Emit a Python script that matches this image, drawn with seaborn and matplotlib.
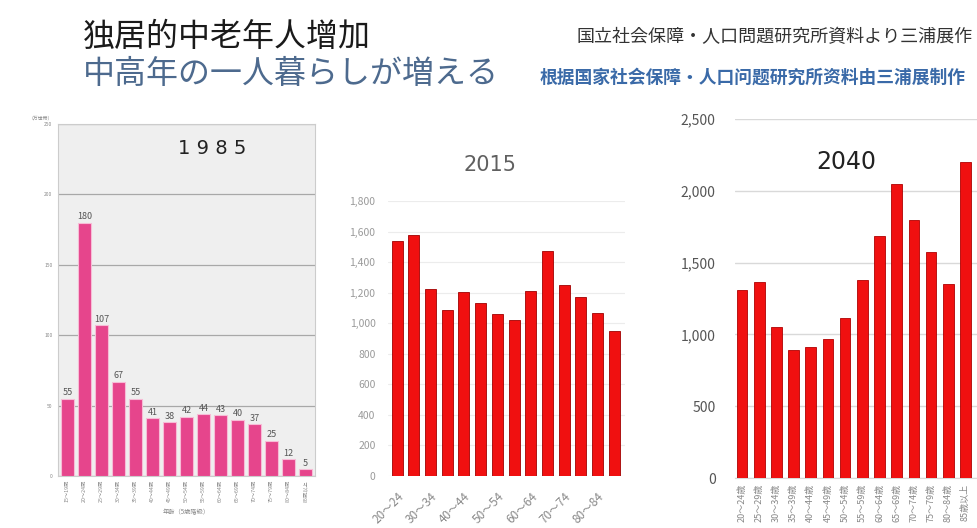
import numpy as np
import pandas as pd
import seaborn as sns
import matplotlib.pyplot as plt

# single-person households by age group
ages_1985 = ['15～19歳', '20～24歳', '25～29歳', '30～34歳', '35～39歳', '40～44歳',
             '45～49歳', '50～54歳', '55～59歳', '60～64歳', '65～69歳', '70～74歳',
             '75～79歳', '80～84歳', '85歳以上']
values_1985 = [55, 180, 107, 67, 55, 41, 38, 42, 44, 43, 40, 37, 25, 12, 5]

ages_2015 = ['20～24', '25～29', '30～34', '35～39', '40～44', '45～49', '50～54',
             '55～59', '60～64', '65～69', '70～74', '75～79', '80～84', '85～']
values_2015 = [1535, 1579, 1224, 1086, 1202, 1132, 1062, 1021, 1211, 1470, 1248, 1169, 1069, 947]

ages_2040 = ['20～24歳', '25～29歳', '30～34歳', '35～39歳', '40～44歳', '45～49歳',
             '50～54歳', '55～59歳', '60～64歳', '65～69歳', '70～74歳', '75～79歳',
             '80～84歳', '85歳以上']
values_2040 = [1308, 1366, 1050, 892, 915, 971, 1111, 1380, 1682, 2045, 1796, 1573, 1348, 2198]

sns.set_style('white')
plt.rcParams['font.family'] = ['Noto Sans CJK JP', 'DejaVu Sans']

W, H = 978, 528
fig = plt.figure(figsize=(W / 100, H / 100), dpi=100)
fig.patch.set_facecolor('white')


def box(l, t, r, b):
    return [l / W, 1 - b / H, (r - l) / W, (b - t) / H]


# headings
fig.text(83 / W, 1 - 37 / H, '独居的中老年人增加', fontsize=23, color='#1a1a1a',
         va='center', family=['Noto Sans CJK SC', 'DejaVu Sans'])
fig.text(83 / W, 1 - 74 / H, '中高年の一人暮らしが増える', fontsize=23, color='#4d6a8e',
         va='center')
fig.text(577 / W, 1 - 37 / H, '国立社会保障・人口問題研究所資料より三浦展作', fontsize=13,
         color='#333333', va='center')
fig.text(540 / W, 1 - 78 / H, '根据国家社会保障·人口问题研究所资料由三浦展制作', fontsize=12.8,
         color='#3a6aa8', va='center', weight='bold',
         family=['Noto Sans CJK SC', 'DejaVu Sans'])

# 1985 panel (scanned style)
df1 = pd.DataFrame({'age': ages_1985, 'n': values_1985})
ax1 = fig.add_axes(box(58, 124, 315, 476))
ax1.set_facecolor('#efefef')
sns.barplot(data=df1, x='age', y='n', color='#e6458c', saturation=1, width=0.77,
            edgecolor='#f7bcd6', linewidth=0.8, ax=ax1, zorder=3)
ax1.set_ylim(0, 250)
ax1.set_xlim(-0.55, 14.55)
ax1.set_yticks(range(0, 251, 50))
ax1.yaxis.grid(True, color='#a8a8a8', lw=0.9)
ax1.set_axisbelow(True)
ax1.tick_params(axis='y', labelsize=3.5, colors='#888888', length=0, pad=4)
ax1.tick_params(axis='x', labelsize=3.8, colors='#888888', length=0, pad=3, rotation=90)
ax1.bar_label(ax1.containers[0], fontsize=6.5, color='#555555', padding=1)
for s in ax1.spines.values():
    s.set_color('#cccccc')
    s.set_linewidth(0.8)
ax1.set_xlabel('年齢（5歳階級）', fontsize=4.5, color='#888888', labelpad=4)
ax1.set_ylabel('')
ax1.text(-0.02, 1.01, '（万世帯）', transform=ax1.transAxes, fontsize=3.5,
         color='#888888', ha='right', va='bottom')
ax1.text(0.6, 0.93, '1 9 8 5', transform=ax1.transAxes, fontsize=14,
         color='#222222', ha='center', va='center', family='DejaVu Sans')

# 2015 panel
df2 = pd.DataFrame({'age': ages_2015, 'n': values_2015})
ax2 = fig.add_axes(box(388, 201, 625, 476))
sns.barplot(data=df2, x='age', y='n', color='#f01010', saturation=1, width=0.66,
            edgecolor='#a00000', linewidth=0.6, ax=ax2, zorder=3)
ax2.set_ylim(0, 1800)
ax2.set_xlim(-0.55, 13.65)
ax2.set_yticks(range(0, 1801, 200))
ax2.set_yticklabels([f'{v:,}' for v in range(0, 1801, 200)])
ax2.set_xticks(range(0, 14, 2))
ax2.set_xticklabels(ages_2015[::2], rotation=45, ha='right', rotation_mode='anchor')
ax2.yaxis.grid(True, color='#ececec', lw=0.8)
ax2.set_axisbelow(True)
ax2.tick_params(axis='y', labelsize=7.5, colors='#9a9a9a', length=0, pad=9)
ax2.tick_params(axis='x', labelsize=8.5, colors='#888888', length=0, pad=10)
sns.despine(ax=ax2, left=True, bottom=True)
ax2.set_xlabel('')
ax2.set_ylabel('')
fig.text(490 / W, 1 - 165 / H, '2015', fontsize=15, color='#606060',
         ha='center', va='center', family='DejaVu Sans')

# 2040 panel
df3 = pd.DataFrame({'age': ages_2040, 'n': values_2040})
ax3 = fig.add_axes(box(735, 119, 978, 478))
sns.barplot(data=df3, x='age', y='n', color='#f01010', saturation=1, width=0.62,
            edgecolor='#b00000', linewidth=0.6, ax=ax3, zorder=3)
ax3.set_ylim(0, 2500)
ax3.set_xlim(-0.41, 13.73)
ax3.set_yticks(range(0, 2501, 500))
ax3.set_yticklabels([f'{v:,}' for v in range(0, 2501, 500)])
ax3.tick_params(axis='x', labelrotation=90)
ax3.yaxis.grid(True, color='#d9d9d9', lw=1)
ax3.set_axisbelow(True)
ax3.tick_params(axis='y', labelsize=10, colors='#555555', length=0, pad=14)
ax3.tick_params(axis='x', labelsize=6.5, colors='#888888', length=0, pad=4)
sns.despine(ax=ax3, left=True, right=True, top=True)
ax3.spines['bottom'].set_color('#d9d9d9')
ax3.set_xlabel('')
ax3.set_ylabel('')
fig.text(846 / W, 1 - 162 / H, '2040', fontsize=17, color='#222222',
         ha='center', va='center', family='DejaVu Sans')

fig.savefig('out.png', dpi=100)
